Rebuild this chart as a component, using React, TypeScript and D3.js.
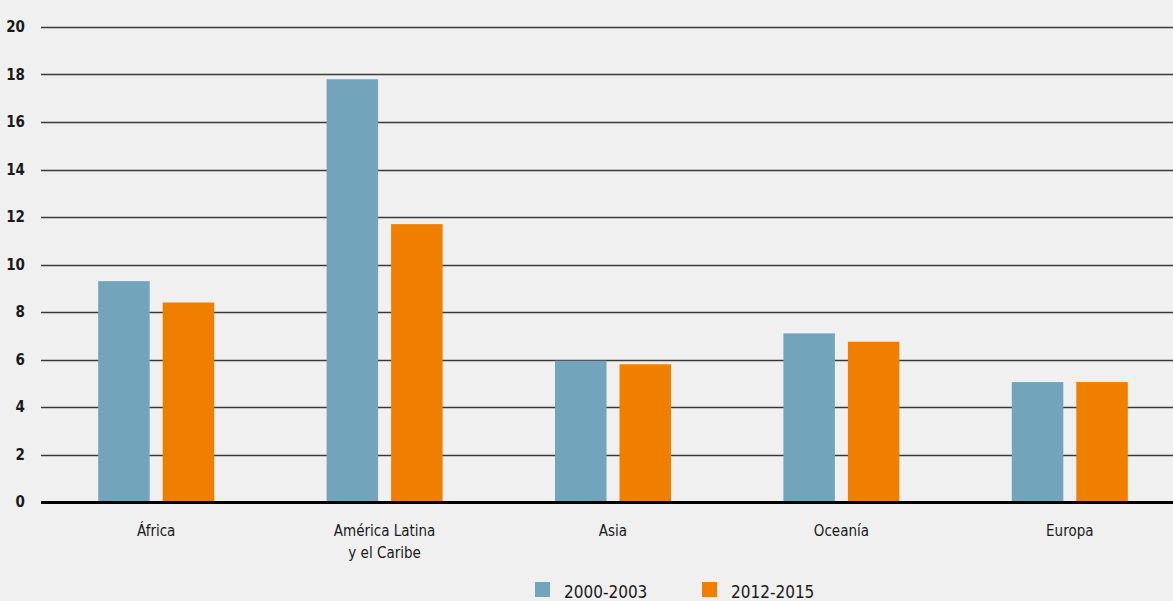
import React from "react";
import * as d3 from "d3";

const categories: string[][] = [["África"], ["América Latina", "y el Caribe"], ["Asia"], ["Oceanía"], ["Europa"]];
const seriesNames = ["2000-2003", "2012-2015"];
const values2000 = [9.3, 17.8, 5.95, 7.1, 5.05];
const values2012 = [8.4, 11.7, 5.8, 6.75, 5.05];
const yTicks = [0, 2, 4, 6, 8, 10, 12, 14, 16, 18, 20];
const colors = ["#72a5bb", "#f07f00"];

const W = 1173;
const H = 601;
const FONT = "'Liberation Sans Narrow', 'DejaVu Sans Condensed', 'Roboto Condensed', sans-serif";

export default function App() {
  const x = d3.scaleBand<number>().domain(d3.range(categories.length)).range([42, 1184]).padding(0);
  const y = d3.scaleLinear().domain([0, 20]).range([502, 27]);
  const barW = 51.5;
  const gap = 13;
  const series = [values2000, values2012];

  return (
    <svg width={W} height={H} style={{ position: "absolute", left: 0, top: 0, background: "#f0f0f0" }} fontFamily={FONT}>
      <rect x={0} y={0} width={W} height={H} fill="#f0f0f0" />
      {yTicks.map((t) => (
        <g key={t}>
          {t !== 0 && (
            <line x1={41} x2={W} y1={Math.round(y(t)) + 0.5} y2={Math.round(y(t)) + 0.5} stroke="#3a3a3a" strokeWidth={1.3} />
          )}
          <text x={25} y={y(t)} dy="0.35em" textAnchor="end" fontSize={15} fontWeight={700} fill="#1a1a1a" style={{ fontStretch: "condensed" }}>
            {t}
          </text>
        </g>
      ))}
      {categories.map((c, i) => {
        const cx = (x(i) as number) + x.bandwidth() / 2;
        return (
          <g key={i}>
            {series.map((vals, s) => {
              const bx = s === 0 ? cx - gap / 2 - barW : cx + gap / 2;
              return <rect key={s} x={bx} y={y(vals[i])} width={barW} height={y(0) - y(vals[i])} fill={colors[s]} />;
            })}
            {c.map((line, k) => (
              <text key={k} x={cx} y={536 + k * 22} textAnchor="middle" fontSize={15} fill="#1a1a1a" style={{ fontStretch: "condensed" }}>
                {line}
              </text>
            ))}
          </g>
        );
      })}
      <line x1={41} x2={W} y1={y(0) + 0.5} y2={y(0) + 0.5} stroke="#000" strokeWidth={3} />
      {seriesNames.map((n, s) => {
        const lx = s === 0 ? 535 : 702;
        return (
          <g key={n}>
            <rect x={lx} y={582} width={15} height={15} fill={colors[s]} />
            <text x={lx + 29} y={598} fontSize={17} fill="#1a1a1a" style={{ fontStretch: "condensed" }}>
              {n}
            </text>
          </g>
        );
      })}
    </svg>
  );
}
